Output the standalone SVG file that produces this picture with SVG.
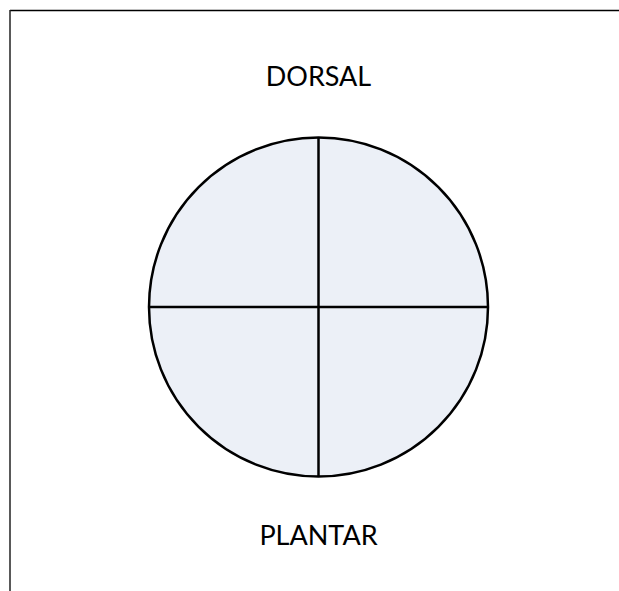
<svg xmlns="http://www.w3.org/2000/svg" width="619" height="591" viewBox="0 0 619 591">
<style>
.lbl{font-family:Lato,"Liberation Sans",sans-serif;font-size:27px;fill:#000;text-anchor:middle}
.ln{stroke:#000;stroke-width:2.5;fill:none}
</style>
<rect width="619" height="591" fill="#fff"/>
<g id="frame">
<line x1="10" y1="10.5" x2="619" y2="10.5" stroke="#000" stroke-width="1.5"/>
<line x1="10" y1="10" x2="10" y2="591" stroke="#222" stroke-width="1.5"/>
</g>
<g id="circle">
<circle cx="318.5" cy="307" r="169.5" fill="#ECF0F7" stroke="#000" stroke-width="2.5"/>
</g>
<g id="connectors">
<line class="ln" x1="318.5" y1="137.5" x2="318.5" y2="476.5"/>
<line class="ln" x1="149" y1="307" x2="488" y2="307"/>
</g>
<g id="dorsal"><text class="lbl" x="318.5" y="86">DORSAL</text></g>
<g id="plantar"><text class="lbl" x="318.5" y="545">PLANTAR</text></g>
</svg>
